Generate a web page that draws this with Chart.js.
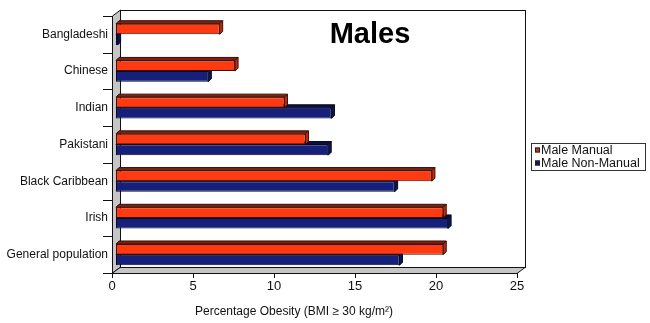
<!DOCTYPE html>
<html><head><meta charset="utf-8">
<script src="https://cdn.jsdelivr.net/npm/chart.js@4/dist/chart.umd.min.js"></script>
<style>html,body{margin:0;padding:0;background:#fff}</style>
</head><body>
<canvas id="c" width="650" height="323" style="width:650px;height:323px"></canvas>
<script>
const categories = ['Bangladeshi','Chinese','Indian','Pakistani','Black Caribbean','Irish','General population'];
const maleManual = [6.4, 7.35, 10.4, 11.7, 19.5, 20.2, 20.2];
const maleNonManual = [0.1, 5.7, 13.3, 13.1, 17.2, 20.5, 17.5];
const seriesNames = ['Male Manual', 'Male Non-Manual'];
const xTickMin = 0, xTickMax = 25, xTickStep = 5;
const chartTitle = 'Males';
const xAxisTitle = 'Percentage Obesity (BMI \u2265 30 kg/m\u00B2)';

const FONT = '"Liberation Sans", Arial, Helvetica, sans-serif';
const DX = 8, DY = -6;        // frame depth
const OX = 4, OY = 0, D = 3;  // bar depth
const faces = [
  {front:'#FF3A10', top:'#7A2410', side:'#C02A0C', edge:'#3A0E06'},
  {front:'#16207A', top:'#0A0F40', side:'#0C1452', edge:'#050A28'}
];

function poly(ctx, pts, fill, stroke) {
  ctx.beginPath();
  ctx.moveTo(pts[0][0], pts[0][1]);
  for (let i = 1; i < pts.length; i++) ctx.lineTo(pts[i][0], pts[i][1]);
  ctx.closePath();
  if (fill) { ctx.fillStyle = fill; ctx.fill(); }
  if (stroke) { ctx.strokeStyle = stroke; ctx.lineWidth = 1; ctx.stroke(); }
}

const frame3d = {
  id: 'frame3d',
  beforeDatasetsDraw(chart) {
    const {ctx, chartArea: a, scales} = chart;
    const L = a.left, T = a.top, R = a.right, B = a.bottom;
    ctx.save();
    ctx.fillStyle = '#fff';
    ctx.fillRect(L + DX, T + DY, R - L, B - T);
    ctx.strokeStyle = '#111'; ctx.lineWidth = 1;
    ctx.strokeRect(L + DX + 0.5, T + DY + 0.5, R - L, B - T);
    poly(ctx, [[L+0.5,T],[L+DX+0.5,T+DY],[L+DX+0.5,B+DY],[L+0.5,B]], '#c6c6c6', '#111');
    poly(ctx, [[L,B+0.5],[L+DX,B+DY+0.5],[R+DX,B+DY+0.5],[R,B+0.5]], '#c6c6c6', '#111');
    const ys = scales.y;
    const band = ys.getPixelForValue(1) - ys.getPixelForValue(0);
    ctx.strokeStyle = '#111';
    for (let i = 0; i <= categories.length; i++) {
      const y = Math.round(ys.getPixelForValue(i) - band / 2) + 0.5;
      ctx.beginPath(); ctx.moveTo(L - 9, y); ctx.lineTo(L, y); ctx.stroke();
    }
    const xs = scales.x;
    xs.ticks.forEach(t => {
      const x = Math.round(xs.getPixelForValue(t.value)) + 0.5;
      ctx.beginPath(); ctx.moveTo(x, B); ctx.lineTo(x, B + 5); ctx.stroke();
    });
    for (let di = chart.data.datasets.length - 1; di >= 0; di--) {
      const meta = chart.getDatasetMeta(di);
      const f = faces[di];
      meta.data.forEach(el => {
        const p = el.getProps(['x','y','base','height'], true);
        const top = p.y - p.height / 2 + OY, bot = p.y + p.height / 2 + OY;
        const x0 = p.base + OX, x1 = p.x + OX;
        poly(ctx, [[x0,top],[x1,top],[x1+D,top-D],[x0+D,top-D]], f.top, f.edge);
        poly(ctx, [[x1,top],[x1+D,top-D],[x1+D,bot-D],[x1,bot]], f.side, f.edge);
      });
    }
    ctx.restore();
    ctx.save();
    ctx.translate(OX, OY);
  },
  afterDatasetsDraw(chart) {
    chart.ctx.restore();
  },
  afterDraw(chart) {
    const ctx = chart.ctx;
    ctx.save();
    ctx.fillStyle = '#000';
    ctx.font = 'bold 29px ' + FONT;
    ctx.textAlign = 'center'; ctx.textBaseline = 'alphabetic';
    ctx.fillText(chartTitle, 370, 43);
    ctx.font = '12px ' + FONT;
    ctx.fillStyle = '#111';
    ctx.fillText(xAxisTitle, 294, 315);
    ctx.strokeStyle = '#333'; ctx.lineWidth = 1;
    ctx.strokeRect(531.5, 143.5, 114, 27);
    ctx.font = '12.5px ' + FONT;
    ctx.textAlign = 'left';
    const sq = ['#B83A22', '#121A5C'];
    chart.data.datasets.forEach((ds, i) => {
      const by = 153.5 + i * 13;
      ctx.fillStyle = sq[i];
      ctx.fillRect(535, by - 6, 5, 5);
      ctx.strokeStyle = '#222';
      ctx.strokeRect(535.5, by - 5.5, 4, 4);
      ctx.fillStyle = '#111';
      ctx.fillText(ds.label, 541, by);
    });
    ctx.restore();
  }
};

new Chart(document.getElementById('c'), {
  type: 'bar',
  data: {
    labels: categories,
    datasets: [
      {label: seriesNames[0], data: maleManual, backgroundColor: faces[0].front, borderColor: faces[0].edge,
       borderWidth: 1, borderSkipped: false, categoryPercentage: 0.58, barPercentage: 1},
      {label: seriesNames[1], data: maleNonManual, backgroundColor: faces[1].front, borderColor: faces[1].edge,
       borderWidth: 1, borderSkipped: false, categoryPercentage: 0.58, barPercentage: 1}
    ]
  },
  options: {
    indexAxis: 'y',
    responsive: false,
    animation: false,
    devicePixelRatio: 1,
    layout: {padding: {top: 16, right: 133, left: 0, bottom: 0}},
    plugins: {legend: {display: false}, title: {display: false}, tooltip: {enabled: false}},
    scales: {
      x: {
        min: xTickMin, max: xTickMax,
        grid: {display: false, drawTicks: false},
        border: {display: false},
        ticks: {stepSize: xTickStep, padding: 6, color: '#111', font: {family: FONT, size: 13}},
        afterFit(s) { s.height = 50; }
      },
      y: {
        grid: {display: false, drawTicks: false},
        border: {display: false},
        ticks: {padding: 4, color: '#111', font: {family: FONT, size: 12}},
        afterFit(s) { s.width = 112; }
      }
    }
  },
  plugins: [frame3d]
});
</script>
</body></html>
